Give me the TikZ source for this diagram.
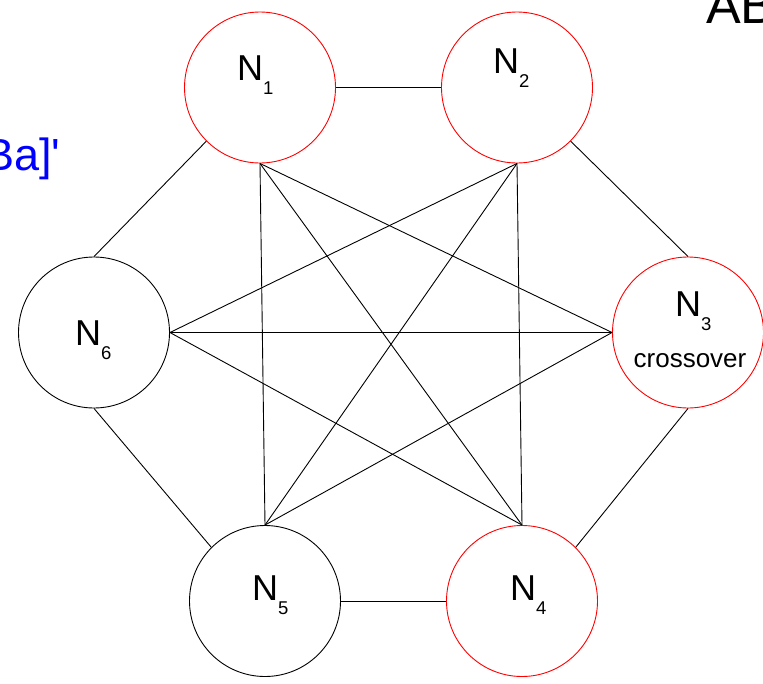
\documentclass[tikz,border=0pt]{standalone}
\usepackage{xcolor}
\usepackage{fontspec}
\setmainfont{Liberation Sans}
\usetikzlibrary{positioning}

\newcommand{\nlab}[1]{N\raisebox{-14pt}{\fontsize{18.5}{18.5}\selectfont #1}}

\begin{document}
\begin{tikzpicture}[x=1pt,y=-1pt,
  nodecirc/.style={circle,draw,line width=0.9pt,minimum size=151pt,inner sep=0pt,fill=white},
  nodelab/.style={anchor=base west,inner sep=0pt,font=\fontsize{36}{36}\selectfont},
  edge/.style={line width=0.9pt,black}]
\useasboundingbox (0,0) rectangle (763,683);
\clip (0,0) rectangle (763,683);
% cut-off texts at the edges
\node[anchor=base west,inner sep=0pt,font=\fontsize{45}{45}\selectfont,text=blue] (cut1) at (-16,170) {Ba]\textquotesingle};
\node[anchor=base west,inner sep=0pt,font=\fontsize{52}{52}\selectfont] (cut2) at (706,23) {AB};
% the six nodes (red = parents/crossover, black = others)
\foreach \i/\x/\y/\c in {1/260/87.5/red,2/517/87.5/red,3/688/332.5/red,4/522/601/red,5/265/601/black,6/94/332.5/black}{
  \node[nodecirc,draw=\c] (n\i) at (\x,\y) {};}
% ring
\foreach \a/\b in {n1.east/n2.west,n2.south east/n3.north,n3.south/n4.north east,n4.west/n5.east,n5.north west/n6.south,n6.north/n1.south west}{
  \draw[edge] (\a) -- (\b);}
% diagonals
\foreach \a/\b in {n1.south/n5.north,n1.south/n4.north,n1.south/n3.west,n2.south/n6.east,n2.south/n5.north,n2.south/n4.north,n6.east/n3.west,n6.east/n4.north,n3.west/n5.north}{
  \draw[edge] (\a) -- (\b);}
% labels
\foreach \i/\x/\y in {1/237/80,2/493/73,3/675/316,4/510/600,5/252/600,6/75/345}{
  \node[nodelab] (l\i) at (\x,\y) {\nlab{\i}};}
\node[anchor=base,inner sep=0pt,font=\fontsize{26}{26}\selectfont] (cross) at (690,367) {crossover};
\end{tikzpicture}
\end{document}
